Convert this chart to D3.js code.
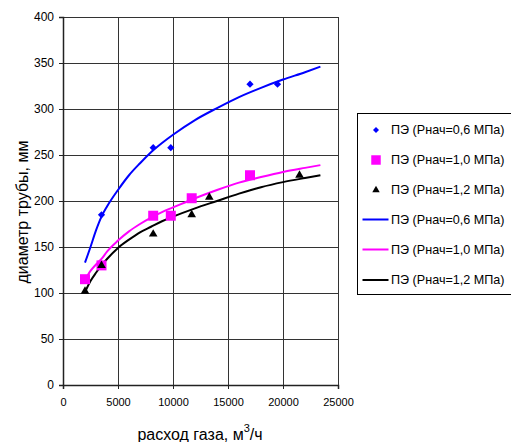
<!DOCTYPE html>
<html>
<head>
<meta charset="utf-8">
<script src="https://cdn.jsdelivr.net/npm/d3@7"></script>
<style>
html,body{margin:0;padding:0;background:#fff;}
svg{display:block;font-family:Arial,"Liberation Sans",sans-serif;}
</style>
</head>
<body>
<svg id="chart" width="511" height="442"></svg>
<script>
// Data
const xTicks = [0, 5000, 10000, 15000, 20000, 25000];
const yTicks = [0, 50, 100, 150, 200, 250, 300, 350, 400];

// measured points
const pts06 = [[3500,185],[8200,258],[9800,258],[17000,327],[19500,327]];
const pts10 = [[2000,115],[3500,130],[8200,184],[9800,184],[11700,203],[17000,228]];
const pts12 = [[2000,102],[3500,130],[8200,164],[11700,185],[13300,204],[21500,228]];

// trend lines
const trendX = [2000,2500,3000,3500,4000,5000,6000,7000,8000,9000,10000,12000,14000,16000,18000,20000,22000,23400];
const trend06 = [133,150,168,183,194,212,228,241,253,263,272,288,301,313,323,332,340,346];
const trend10 = [114,124,131,137,145,157,167,175,182,188,193,203,212,220,226,231.5,236,239];
const trend12 = [101,113,122,130,137,149,158,166,172,178,183,192,200,208,215,220.5,225,228];

const legendLabels = [
  "ПЭ (Рнач=0,6 МПа)","ПЭ (Рнач=1,0 МПа)","ПЭ (Рнач=1,2 МПа)",
  "ПЭ (Рнач=0,6 МПа)","ПЭ (Рнач=1,0 МПа)","ПЭ (Рнач=1,2 МПа)"
];

const svg = d3.select("#chart");
const x = d3.scaleLinear().domain([0,25000]).range([63,338]);
const y = d3.scaleLinear().domain([0,400]).range([385,17]);

// gridlines
svg.append("g").selectAll("line").data(yTicks.filter(d=>d>0)).join("line")
  .attr("x1",63).attr("x2",338).attr("y1",d=>Math.round(y(d))+0.5).attr("y2",d=>Math.round(y(d))+0.5)
  .attr("stroke","#333").attr("stroke-width",1);
svg.append("g").selectAll("line").data(xTicks.filter(d=>d>0)).join("line")
  .attr("y1",17).attr("y2",385).attr("x1",d=>Math.round(x(d))+0.5).attr("x2",d=>Math.round(x(d))+0.5)
  .attr("stroke","#333").attr("stroke-width",1);

// axes
const yAxis = d3.axisLeft(y).tickValues(yTicks).tickSize(4).tickPadding(5);
const gy = svg.append("g").attr("transform","translate(63,0)").call(yAxis);
gy.select(".domain").attr("stroke","#222").attr("stroke-width",1.5);
gy.selectAll(".tick line").attr("stroke","#222");
gy.selectAll("text").attr("font-size",12).attr("fill","#000").attr("font-family","Arial, 'Liberation Sans', sans-serif");

const xAxis = d3.axisBottom(x).tickValues(xTicks).tickSize(4).tickPadding(9).tickFormat(d3.format("d"));
const gx = svg.append("g").attr("transform","translate(0,385)").call(xAxis);
gx.select(".domain").attr("stroke","#222").attr("stroke-width",1.5);
gx.selectAll(".tick line").attr("stroke","#222");
gx.selectAll("text").attr("font-size",11).attr("fill","#000").attr("font-family","Arial, 'Liberation Sans', sans-serif");

// titles
svg.append("text").attr("x",200).attr("y",440).attr("text-anchor","middle")
  .attr("font-size",16).attr("fill","#000")
  .call(t=>{
    t.append("tspan").text("расход газа, м");
    t.append("tspan").attr("font-size",11).attr("dy",-8).text("3");
    t.append("tspan").attr("dy",8).text("/ч");
  });
svg.append("text").attr("transform","translate(28,212) rotate(-90)").attr("text-anchor","middle")
  .attr("font-size",16).attr("fill","#000").text("диаметр трубы, мм");

// trend lines
const line = d3.line().x(d=>x(d[0])).y(d=>y(d[1])).curve(d3.curveMonotoneX);
const lines = [[trend06,"#0000FF"],[trend10,"#FF00FF"],[trend12,"#000000"]];
lines.forEach(([vals,color])=>{
  svg.append("path").datum(trendX.map((xv,i)=>[xv,vals[i]]))
    .attr("d",line).attr("fill","none").attr("stroke",color).attr("stroke-width",2);
});

// markers
const diamond = d3.symbol().type(d3.symbolSquare).size(26);
const square = d3.symbol().type(d3.symbolSquare).size(100);
const tri = d3.symbol().type(d3.symbolTriangle).size(32);
svg.append("g").selectAll("path").data(pts06).join("path")
  .attr("d",diamond).attr("transform",d=>`translate(${x(d[0])},${y(d[1])}) rotate(45)`).attr("fill","#0000FF");
svg.append("g").selectAll("path").data(pts10).join("path")
  .attr("d",square).attr("transform",d=>`translate(${x(d[0])},${y(d[1])})`).attr("fill","#FF00FF");
svg.append("g").selectAll("path").data(pts12).join("path")
  .attr("d",tri).attr("transform",d=>`translate(${x(d[0])},${y(d[1])})`).attr("fill","#000");

// legend
const lg = svg.append("g");
lg.append("rect").attr("x",357.5).attr("y",113.5).attr("width",160).attr("height",181)
  .attr("fill","#fff").attr("stroke","#000").attr("stroke-width",1);
const ly = [130,160,190,219.5,249.5,280];
const legSym = [
  g=>g.append("path").attr("d",d3.symbol().type(d3.symbolSquare).size(18)).attr("transform","rotate(45)").attr("fill","#0000FF"),
  g=>g.append("path").attr("d",d3.symbol().type(d3.symbolSquare).size(90)).attr("fill","#FF00FF"),
  g=>g.append("path").attr("d",d3.symbol().type(d3.symbolTriangle).size(24)).attr("fill","#000"),
  g=>g.append("line").attr("x1",-13.5).attr("x2",12.5).attr("stroke","#0000FF").attr("stroke-width",2),
  g=>g.append("line").attr("x1",-13.5).attr("x2",12.5).attr("stroke","#FF00FF").attr("stroke-width",2),
  g=>g.append("line").attr("x1",-13.5).attr("x2",12.5).attr("stroke","#000").attr("stroke-width",2)
];
legendLabels.forEach((lab,i)=>{
  const g = lg.append("g").attr("transform",`translate(376,${ly[i]})`);
  legSym[i](g);
  lg.append("text").attr("x",391).attr("y",ly[i]).attr("dy","0.35em")
    .attr("font-size",12.6).attr("fill","#000").text(lab);
});
</script>
</body>
</html>
